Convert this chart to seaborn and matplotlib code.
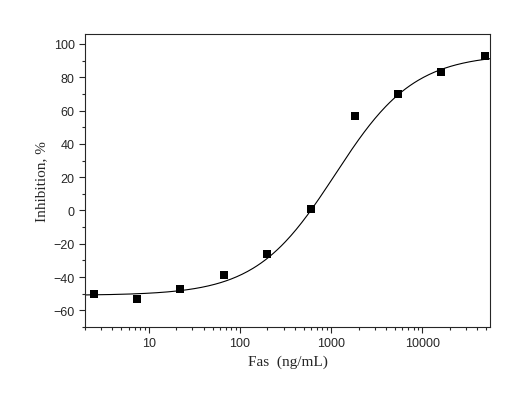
import numpy as np
import pandas as pd
import matplotlib
matplotlib.use("Agg")
import matplotlib.pyplot as plt
import seaborn as sns
from matplotlib.ticker import LogLocator, MultipleLocator, FixedLocator

# measured points
conc = [2.5, 7.5, 22, 67, 200, 600, 1800, 5400, 16000, 48000]
inhibition = [-50, -53, -47, -39, -26, 1, 57, 70, 83, 93]

# 4-parameter logistic fit
fit_bottom, fit_top, fit_ec50, fit_hill = -51.0, 94.0, 1100.0, 1.0

sns.set_style("ticks")
plt.rcParams["font.family"] = ["Liberation Sans", "DejaVu Sans"]

fig = plt.figure(figsize=(5.2, 4.06), dpi=100)
ax = fig.add_axes([85 / 520, 1 - 328 / 406, 405 / 520, 293 / 406])

xs = np.logspace(np.log10(2.0), np.log10(55000), 300)
fit_df = pd.DataFrame({"x": xs,
                       "y": fit_bottom + (fit_top - fit_bottom) / (1 + (fit_ec50 / xs) ** fit_hill)})
pts_df = pd.DataFrame({"x": conc, "y": inhibition})

sns.lineplot(data=fit_df, x="x", y="y", ax=ax, color="black", lw=0.8)
sns.scatterplot(data=pts_df, x="x", y="y", ax=ax, marker="s", color="black",
                s=28, edgecolor="black", linewidth=0)

ax.set_xscale("log")
ax.set_xlim(2.0, 55000)
ax.set_ylim(-70, 106)
ax.yaxis.set_major_locator(FixedLocator(range(-60, 101, 20)))
ax.yaxis.set_minor_locator(MultipleLocator(10))
ax.xaxis.set_major_locator(LogLocator(base=10))
ax.xaxis.set_minor_locator(LogLocator(base=10, subs=np.arange(2, 10)))
ax.xaxis.set_major_formatter(matplotlib.ticker.FuncFormatter(lambda v, p: f"{v:g}"))
ax.tick_params(which="major", direction="out", length=4, labelsize=9, width=0.8)
ax.tick_params(which="minor", direction="out", length=2, width=0.8)
ax.xaxis.set_minor_formatter(matplotlib.ticker.NullFormatter())
for s in ax.spines.values():
    s.set_visible(True)
    s.set_linewidth(0.8)

ax.set_xlabel("Fas  (ng/mL)", fontsize=11, family=["Liberation Serif", "DejaVu Serif"])
ax.set_ylabel("Inhibition, %", fontsize=11, family=["Liberation Serif", "DejaVu Serif"])

fig.savefig("out.png", dpi=100)
